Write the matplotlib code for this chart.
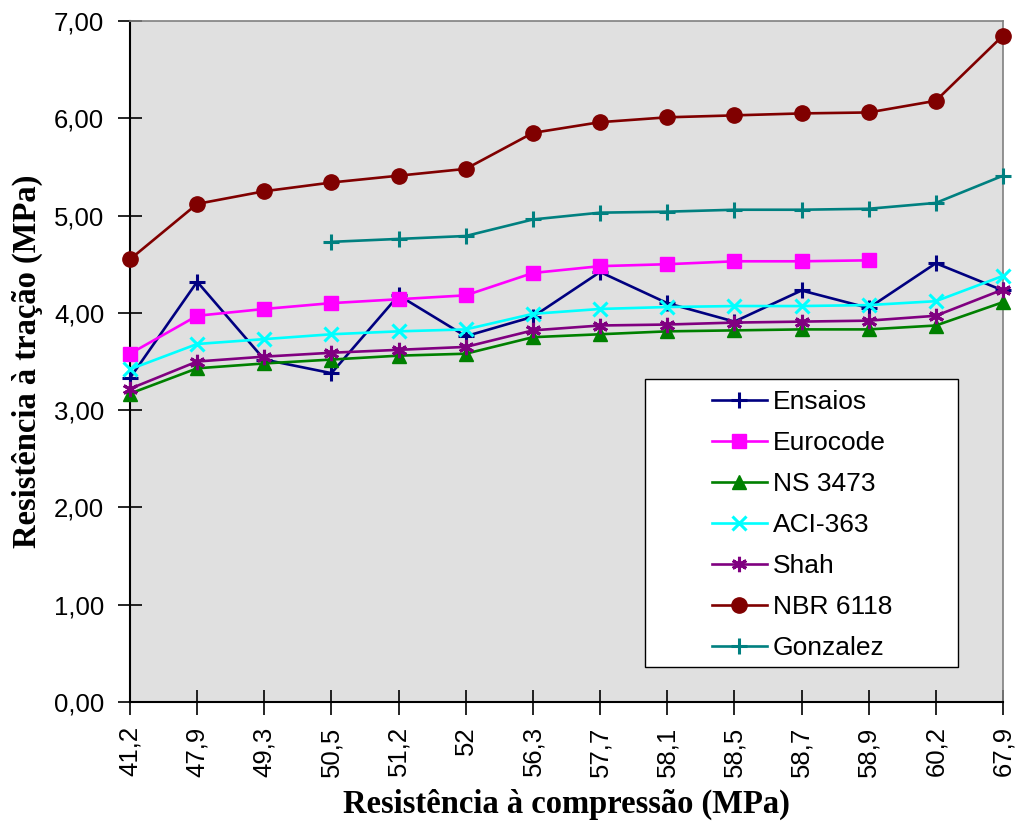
import matplotlib
matplotlib.use("Agg")
import matplotlib.pyplot as plt
from matplotlib.patches import Rectangle
from matplotlib.ticker import FuncFormatter

# Compressive strength classes (MPa), used as category labels
fc_labels = ["41,2", "47,9", "49,3", "50,5", "51,2", "52", "56,3",
             "57,7", "58,1", "58,5", "58,7", "58,9", "60,2", "67,9"]

# Tensile strength (MPa) per method
ensaios  = [3.33, 4.32, 3.52, 3.38, 4.18, 3.76, 3.96, 4.42, 4.10, 3.91, 4.23, 4.05, 4.51, 4.23]
eurocode = [3.58, 3.97, 4.04, 4.10, 4.14, 4.18, 4.41, 4.48, 4.50, 4.53, 4.53, 4.54, None, None]
ns3473   = [3.17, 3.43, 3.48, 3.52, 3.56, 3.58, 3.75, 3.78, 3.81, 3.82, 3.83, 3.83, 3.87, 4.11]
aci363   = [3.42, 3.68, 3.73, 3.78, 3.81, 3.83, 3.99, 4.04, 4.06, 4.07, 4.07, 4.08, 4.12, 4.38]
shah     = [3.22, 3.50, 3.55, 3.59, 3.62, 3.65, 3.82, 3.87, 3.88, 3.90, 3.91, 3.92, 3.97, 4.24]
nbr6118  = [4.55, 5.12, 5.25, 5.34, 5.41, 5.48, 5.85, 5.96, 6.01, 6.03, 6.05, 6.06, 6.18, 6.85]
gonzalez = [None, None, None, 4.73, 4.76, 4.79, 4.96, 5.03, 5.04, 5.06, 5.06, 5.07, 5.13, 5.41]

y_ticks = [0, 1, 2, 3, 4, 5, 6, 7]

plt.rcParams["font.family"] = ["Liberation Sans", "DejaVu Sans"]

W, H = 1018, 824
fig = plt.figure(figsize=(W / 100, H / 100), dpi=100)
ax = fig.add_axes([130 / W, 1 - 702 / H, (1003 - 130) / W, (702 - 21) / H])
ax.set_facecolor("#e0e0e0")

x = list(range(len(fc_labels)))


def pts(vals):
    xs = [i for i, v in zip(x, vals) if v is not None]
    ys = [v for v in vals if v is not None]
    return xs, ys


lw = 1.9
series = [
    ("Ensaios", ensaios, "#000080", dict(marker="+", markersize=11, markeredgewidth=2.2)),
    ("Eurocode", eurocode, "#ff00ff", dict(marker="s", markersize=10.5)),
    ("NS 3473", ns3473, "#008000", dict(marker="^", markersize=10)),
    ("ACI-363", aci363, "#00ffff", dict(marker="x", markersize=10, markeredgewidth=2.2)),
    ("Shah", shah, "#800080", dict(marker=(6, 2, 0), markersize=11, markeredgewidth=2.2)),
    ("NBR 6118", nbr6118, "#800000", dict(marker="o", markersize=11)),
    ("Gonzalez", gonzalez, "#008080", dict(marker="+", markersize=11, markeredgewidth=2.2)),
]

for name, vals, color, mk in series:
    xs, ys = pts(vals)
    ax.plot(xs, ys, color=color, lw=lw, label=name, clip_on=False,
            markerfacecolor=color, markeredgecolor=color, zorder=3, **mk)

ax.set_xlim(0, len(fc_labels) - 1)
ax.set_ylim(0, 7)
ax.set_xticks(x)
ax.set_xticklabels(fc_labels, rotation=90, fontsize=18.5)
ax.set_yticks(y_ticks)
ax.yaxis.set_major_formatter(FuncFormatter(lambda v, p: f"{v:.2f}".replace(".", ",")))
ax.tick_params(axis="y", labelsize=18.5, direction="inout", length=17, width=1.2, pad=10)
ax.tick_params(axis="x", direction="inout", length=18, width=1.2, pad=8.5)

for s in ("left", "bottom"):
    ax.spines[s].set_color("black")
    ax.spines[s].set_linewidth(1.5)
for s in ("top", "right"):
    ax.spines[s].set_color("#808080")
    ax.spines[s].set_linewidth(1.2)

label_font = dict(family=["Liberation Serif", "DejaVu Serif"], weight="bold", fontsize=23.5)
ax.set_xlabel("Resistência à compressão (MPa)", labelpad=9, **label_font)
ax.set_ylabel("Resistência à tração (MPa)", labelpad=8, **label_font)

# Legend: white box with the entries placed inside it
box = Rectangle((645 / W, 1 - 667 / H), (958 - 645) / W, (667 - 379) / H,
                transform=fig.transFigure, facecolor="white", edgecolor="black",
                linewidth=1.0, zorder=4, clip_on=False)
ax.add_patch(box)
leg = ax.legend(loc="upper left", bbox_to_anchor=(712 / W, 1 - 390 / H),
                bbox_transform=fig.transFigure, fontsize=19, frameon=False,
                borderpad=0, labelspacing=0.645, handlelength=2.08,
                handletextpad=0.23, borderaxespad=0)
leg.set_zorder(5)

fig.savefig("out.png", dpi=100)
